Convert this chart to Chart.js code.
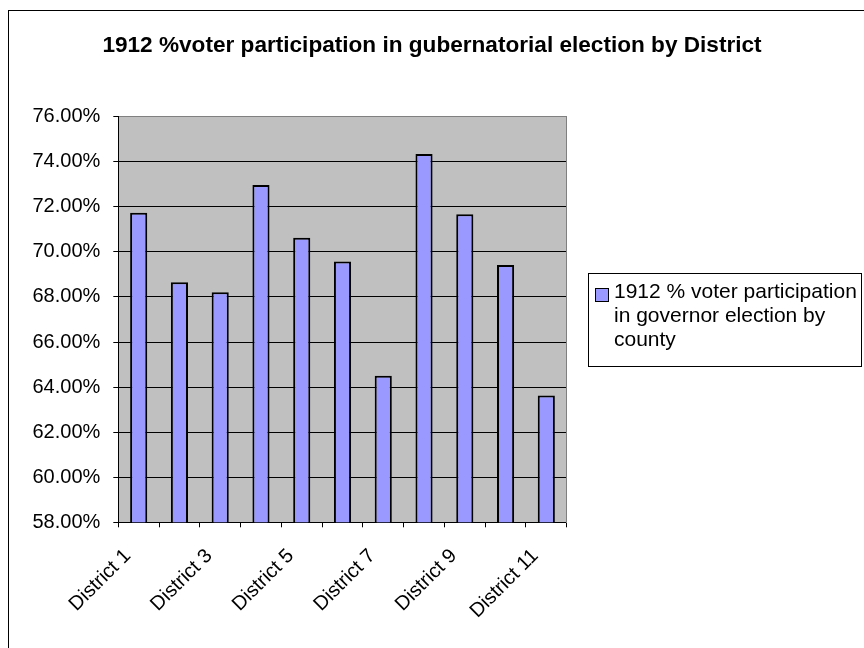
<!DOCTYPE html>
<html>
<head>
<meta charset="utf-8">
<script src="https://cdn.jsdelivr.net/npm/chart.js@4/dist/chart.umd.min.js"></script>
<style>
  html, body { margin: 0; padding: 0; background: #ffffff; }
  canvas { display: block; }
</style>
</head>
<body>
<canvas id="c" width="864" height="648"></canvas>
<script>
const chartTitle = '1912 %voter participation in gubernatorial election by District';
const seriesName = '1912 % voter participation in governor election by county';
const categories = ['District 1','District 2','District 3','District 4','District 5','District 6','District 7','District 8','District 9','District 10','District 11'];
const participation = [71.74, 68.65, 68.21, 72.97, 70.63, 69.58, 64.50, 74.34, 71.67, 69.42, 63.63];
const yMin = 58, yMax = 76, yStep = 2;

const FONT = '"Liberation Sans", Arial, sans-serif';
Chart.defaults.font.family = FONT;
Chart.defaults.color = '#000000';

const frameAndBg = {
  id: 'frameAndBg',
  beforeDraw(chart) {
    const ctx = chart.ctx, a = chart.chartArea;
    ctx.save();
    ctx.fillStyle = '#ffffff';
    ctx.fillRect(0, 0, chart.width, chart.height);
    ctx.strokeStyle = '#000000';
    ctx.lineWidth = 1;
    ctx.strokeRect(8.5, 10.5, 900, 700);
    ctx.fillStyle = '#C0C0C0';
    ctx.fillRect(a.left, a.top, a.right - a.left, a.bottom - a.top);
    ctx.restore();
  },
  afterDraw(chart) {
    const ctx = chart.ctx;
    const ds = chart.data.datasets[0];
    ctx.save();
    // legend box
    const bx = 588.5, by = 273.5, bw = 273, bh = 93;
    ctx.strokeStyle = '#000000';
    ctx.lineWidth = 1;
    ctx.strokeRect(bx, by, bw, bh);
    // swatch
    ctx.fillStyle = ds.backgroundColor;
    ctx.fillRect(595.5, 288.5, 13, 13);
    ctx.strokeRect(595.5, 288.5, 13, 13);
    // wrapped text
    ctx.font = '21px ' + FONT;
    ctx.fillStyle = '#000000';
    ctx.textBaseline = 'alphabetic';
    ctx.textAlign = 'left';
    const words = ds.label.split(' ');
    const lines = [];
    let cur = '';
    for (const w of words) {
      const t = cur ? cur + ' ' + w : w;
      if (ctx.measureText(t).width > 255 && cur) { lines.push(cur); cur = w; }
      else cur = t;
    }
    if (cur) lines.push(cur);
    lines.forEach((ln, i) => ctx.fillText(ln, 614, 298 + i * 24));
    ctx.restore();
  }
};

new Chart(document.getElementById('c'), {
  type: 'bar',
  data: {
    labels: categories,
    datasets: [{
      label: seriesName,
      data: participation,
      backgroundColor: '#9999FF',
      borderColor: '#000000',
      borderWidth: 2,
      barPercentage: 0.42,
      categoryPercentage: 1.0
    }]
  },
  options: {
    responsive: false,
    devicePixelRatio: 1,
    animation: false,
    layout: { padding: 0 },
    plugins: {
      legend: { display: false },
      tooltip: { enabled: false },
      title: {
        display: true,
        text: chartTitle,
        color: '#000000',
        font: { size: 22.6, weight: 'bold', family: FONT },
        padding: { top: 32, bottom: 57.6 }
      }
    },
    scales: {
      x: {
        offset: true,
        grid: { offset: true, drawOnChartArea: false, drawTicks: true, tickLength: 5, color: '#000000' },
        border: { display: true, color: '#000000', width: 1 },
        ticks: {
          autoSkip: false,
          maxRotation: 45,
          minRotation: 45,
          padding: 17,
          labelOffset: -11,
          font: { size: 20 },
          color: '#000000',
          callback: function(v, i) { return i % 2 === 0 ? this.getLabelForValue(v) : ''; }
        },
        afterFit(scale) { scale.height = 125.7; }
      },
      y: {
        min: yMin,
        max: yMax,
        grid: {
          color: (c) => (c.tick && c.tick.value === yMax) ? '#808080' : '#000000',
          tickColor: '#000000',
          tickLength: 5,
          lineWidth: 1
        },
        border: { display: true, color: '#000000', width: 1 },
        ticks: {
          stepSize: yStep,
          padding: 13,
          font: { size: 20 },
          color: '#000000',
          callback: (v) => v.toFixed(2) + '%'
        },
        afterFit(scale) { scale.width = 118.3; }
      },
      yRight: {
        position: 'right',
        min: yMin,
        max: yMax,
        grid: { display: false },
        border: { display: true, color: '#808080', width: 1 },
        ticks: { display: false },
        afterFit(scale) { scale.width = 297.3; }
      }
    }
  },
  plugins: [frameAndBg]
});
</script>
</body>
</html>
